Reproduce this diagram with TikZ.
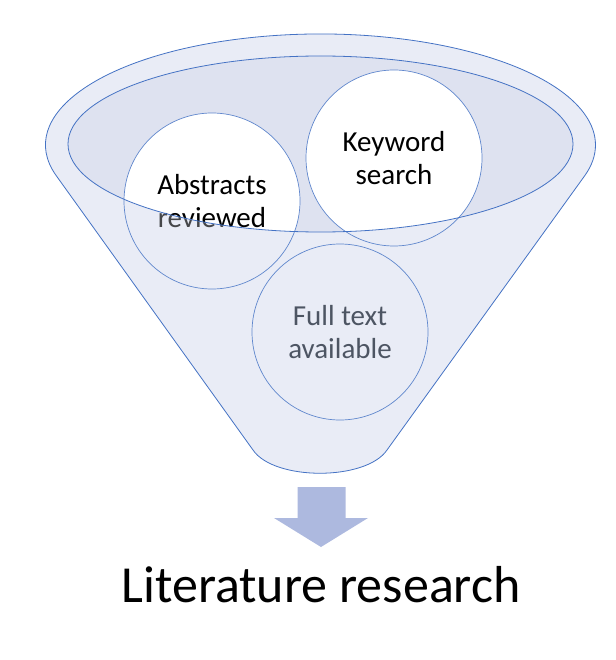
\documentclass[tikz,border=0pt]{standalone}
\usepackage{fontspec}
\setmainfont{Carlito}
\usetikzlibrary{positioning, calc}
\definecolor{funline}{HTML}{4472C4}
\definecolor{funfill}{HTML}{E9ECF6}
\definecolor{mouthfill}{HTML}{DEE2F0}
\definecolor{arrowfill}{HTML}{ADB9DF}
\definecolor{greytext}{HTML}{4D5563}

\begin{document}
\begin{tikzpicture}[x=1pt, y=-1pt, stage/.style={circle, draw=funline!85, line width=0.7pt, minimum size=176pt, align=center, font=\fontsize{29}{33}\selectfont},
		funnel/.style={draw=funline, line width=0.8pt, fill=funfill}]
		\useasboundingbox (0,0) rectangle (615,660);
		% funnel body and mouth
		\draw[funnel] (55.9,175.2) arc[start angle=195.8, end angle=-15.8, x radius=275pt, y radius=111pt] -- (387,450) .. controls (366,481) and (274,481) .. (253,450) -- cycle;
		\fill[mouthfill] (320.5,144) ellipse [x radius=252.5, y radius=88];
		\coordinate (cA) at (212,201); \coordinate (cK) at (394,158); \coordinate (cF) at (340,332);
		\begin{scope}
			\clip (320.5,144) ellipse [x radius=252.5, y radius=88];
			\fill[white] (cA) circle (88pt) (cK) circle (88pt);
		\end{scope}
		\node[stage] (abs) at (cA) {Abstracts\\reviewed}; \node[stage] (key) at (cK) {Keyword\\search};
		\node[stage, text=greytext] (full) at (cF) {Full text\\available};
		% text below the mouth seen through the funnel
		\begin{scope}
			\clip (cA) circle (87pt);
			\fill[funfill, opacity=0.3, even odd rule] (0,0) rectangle (615,660) (320.5,144) ellipse [x radius=252.5, y radius=88];
		\end{scope}
		\draw[funline, line width=0.8pt] (320.5,144) ellipse [x radius=252.5, y radius=88];
		% output arrow
		\fill[arrowfill] (297.7,487) -- (345.7,487) -- (345.7,518) -- (368,518) -- (321,547) -- (274,518) -- (297.7,518) -- cycle;
		\node[anchor=base, font=\fontsize{52}{60}\selectfont] (lit) at (321,602) {Literature research};
	\end{tikzpicture}
\end{document}
